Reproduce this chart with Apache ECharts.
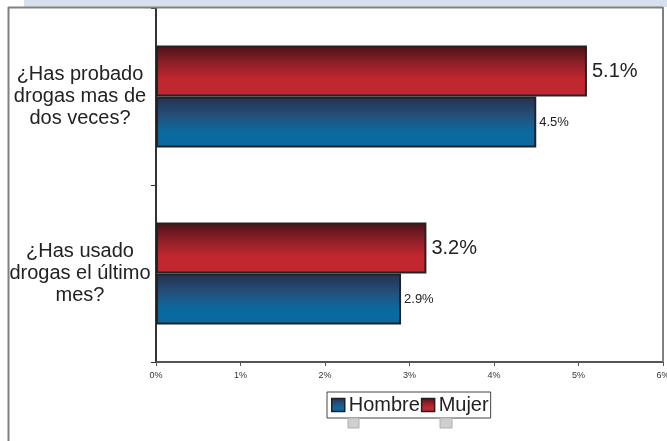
<!DOCTYPE html>
<html>
<head>
<meta charset="utf-8">
<script src="https://cdn.jsdelivr.net/npm/echarts@6/dist/echarts.min.js"></script>
<style>html,body{margin:0;padding:0;background:#fff;}#c{width:667px;height:441px;}</style>
</head>
<body>
<div id="c"></div>
<script>
var categories = ['¿Has usado\ndrogas el último\nmes?', '¿Has probado\ndrogas mas de\ndos veces?'];
var hombre = [2.9, 4.5];
var mujer = [3.2, 5.1];
var xTicks = [0, 1, 2, 3, 4, 5, 6];

var chart = echarts.init(document.getElementById('c'), null, {renderer: 'canvas'});
var font = 'Liberation Sans, Arial, sans-serif';
var gradM = new echarts.graphic.LinearGradient(0, 0, 0, 1, [
  {offset: 0, color: '#4a1118'}, {offset: 0.35, color: '#8e2029'}, {offset: 0.65, color: '#c1272f'}, {offset: 1, color: '#c1272f'}]);
var gradH = new echarts.graphic.LinearGradient(0, 0, 0, 1, [
  {offset: 0, color: '#26304f'}, {offset: 0.4, color: '#24517d'}, {offset: 0.7, color: '#0a6aa0'}, {offset: 1, color: '#0a6aa0'}]);

chart.setOption({
  animation: false,
  backgroundColor: '#fff',
  textStyle: {fontFamily: font},
  grid: {left: 156, right: 4, top: 8, bottom: 79, outerBoundsMode: 'none', containLabel: false},
  xAxis: {
    type: 'value', min: xTicks[0], max: xTicks[xTicks.length - 1], interval: 1,
    axisLine: {show: true, lineStyle: {color: '#555', width: 2}},
    axisTick: {show: true, length: 4, lineStyle: {color: '#555'}},
    splitLine: {show: false},
    axisLabel: {formatter: '{value}%', fontSize: 9, color: '#333', margin: 9, fontFamily: font}
  },
  yAxis: {
    type: 'category', data: categories,
    axisLine: {show: true, lineStyle: {color: '#333', width: 2}},
    axisTick: {show: true, length: 5, lineStyle: {color: '#333'}},
    axisLabel: {align: 'center', margin: 76, fontSize: 20, lineHeight: 22, color: '#222', fontFamily: font}
  },
  legend: {
    data: ['Hombre', 'Mujer'],
    left: 327, top: 392, orient: 'horizontal',
    itemWidth: 13, itemHeight: 13, itemGap: 1,
    padding: [3, 2, 3, 4],
    borderColor: '#444', borderWidth: 1,
    icon: 'rect',
    itemStyle: {borderColor: '#222', borderWidth: 1.5},
    textStyle: {fontSize: 20, color: '#222', padding: [0, 0, 0, -1], fontFamily: font}
  },
  series: [
    {
      name: 'Mujer', type: 'bar', data: mujer, barWidth: 51, barGap: '0%',
      itemStyle: {color: gradM, borderColor: '#222', borderWidth: 2},
      label: {show: true, position: 'right', distance: 5, formatter: '{c}%', fontSize: 20, color: '#222', fontFamily: font}
    },
    {
      name: 'Hombre', type: 'bar', data: hombre, barWidth: 51, barGap: '0%',
      itemStyle: {color: gradH, borderColor: '#222', borderWidth: 2},
      label: {show: true, position: 'right', distance: 3, formatter: '{c}%', fontSize: 13, color: '#222', fontFamily: font}
    }
  ],
  graphic: [
    {type: 'rect', shape: {x: 24, y: 0, width: 643, height: 7}, style: {fill: '#d6e0ee'}, z: 10},
    {type: 'line', shape: {x1: 8, y1: 7.5, x2: 663, y2: 7.5}, style: {stroke: '#808080', lineWidth: 2}, z: 10},
    {type: 'line', shape: {x1: 8.5, y1: 7, x2: 8.5, y2: 441}, style: {stroke: '#808080', lineWidth: 2}, z: 10},
    {type: 'line', shape: {x1: 663, y1: 7, x2: 663, y2: 362}, style: {stroke: '#808080', lineWidth: 2}, z: 10},
    {type: 'rect', shape: {x: 348, y: 418, width: 11, height: 10}, style: {fill: '#cfcfcf', stroke: '#b0b0b0', lineWidth: 1}, z: 10},
    {type: 'rect', shape: {x: 440, y: 418, width: 12, height: 10}, style: {fill: '#cfcfcf', stroke: '#b0b0b0', lineWidth: 1}, z: 10}
  ]
});
</script>
</body>
</html>
